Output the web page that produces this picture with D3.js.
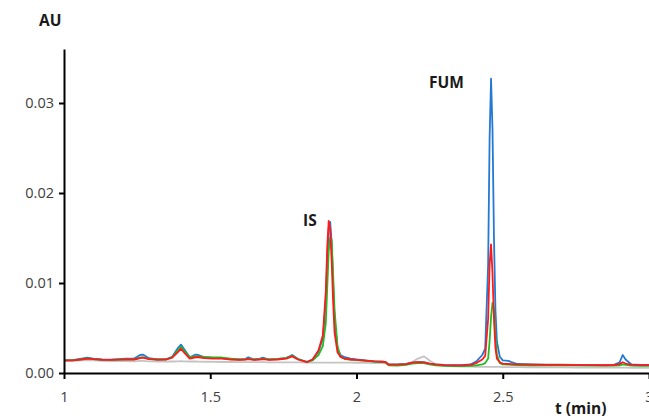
<!DOCTYPE html>
<html>
<head>
<meta charset="utf-8">
<script src="https://cdn.jsdelivr.net/npm/d3@7"></script>
<style>
  body { margin: 0; background: #fff; }
  .axis path, .axis line { stroke: #000; stroke-width: 2; }
  .axis text { font-family: "Open Sans", "Liberation Sans", sans-serif; font-size: 14.5px; fill: #404040; }
  .lbl { font-family: "Open Sans", "Liberation Sans", sans-serif; font-size: 15.5px; font-weight: bold; fill: #1a1a1a; }
  .trace { fill: none; stroke-width: 1.8; stroke-linejoin: round; }
</style>
</head>
<body>
<svg width="649" height="418"></svg>
<script>
// retention time (min), shared by all traces
var time = [1.00, 1.03, 1.06, 1.08, 1.10, 1.13, 1.16, 1.19, 1.21, 1.24,
  1.26, 1.27, 1.29, 1.32, 1.35, 1.37, 1.39, 1.40, 1.41, 1.43,
  1.45, 1.46, 1.48, 1.51, 1.54, 1.57, 1.60, 1.62, 1.63, 1.65,
  1.67, 1.68, 1.70, 1.73, 1.76, 1.78, 1.80, 1.83, 1.85, 1.87,
  1.885, 1.895, 1.90, 1.905, 1.91, 1.915, 1.92, 1.925, 1.935, 1.945,
  1.96, 1.98, 2.00, 2.03, 2.06, 2.09, 2.10, 2.11, 2.14, 2.17,
  2.19, 2.21, 2.23, 2.25, 2.27, 2.30, 2.33, 2.36, 2.39, 2.41,
  2.43, 2.44, 2.45, 2.455, 2.46, 2.465, 2.47, 2.475, 2.48, 2.49,
  2.50, 2.52, 2.53, 2.55, 2.60, 2.65, 2.70, 2.75, 2.80, 2.85,
  2.88, 2.90, 2.91, 2.92, 2.94, 2.97, 3.00];

// absorbance (AU)
var grayTrace = [0.00135, 0.00135, 0.00140, 0.00142, 0.00140, 0.00135, 0.00132, 0.00132, 0.00132, 0.00130,
  0.00135, 0.00135, 0.00130, 0.00128, 0.00128, 0.00128, 0.00130, 0.00132, 0.00130, 0.00128,
  0.00128, 0.00126, 0.00125, 0.00124, 0.00122, 0.00122, 0.00120, 0.00120, 0.00120, 0.00120,
  0.00120, 0.00120, 0.00118, 0.00118, 0.00118, 0.00118, 0.00118, 0.00116, 0.00116, 0.00116,
  0.00115, 0.00115, 0.00115, 0.00115, 0.00115, 0.00115, 0.00115, 0.00115, 0.00115, 0.00115,
  0.00115, 0.00115, 0.00114, 0.00112, 0.00110, 0.00110, 0.00108, 0.00090, 0.00090, 0.00095,
  0.00120, 0.00160, 0.00185, 0.00140, 0.00095, 0.00080, 0.00075, 0.00072, 0.00070, 0.00068,
  0.00068, 0.00068, 0.00068, 0.00068, 0.00068, 0.00068, 0.00068, 0.00068, 0.00068, 0.00067,
  0.00066, 0.00066, 0.00065, 0.00065, 0.00064, 0.00063, 0.00062, 0.00061, 0.00060, 0.00060,
  0.00059, 0.00059, 0.00059, 0.00059, 0.00058, 0.00058, 0.00058];

var blueTrace = [0.00140, 0.00142, 0.00160, 0.00170, 0.00160, 0.00150, 0.00148, 0.00155, 0.00160, 0.00160,
  0.00200, 0.00205, 0.00165, 0.00150, 0.00155, 0.00180, 0.00280, 0.00315, 0.00270, 0.00175,
  0.00205, 0.00200, 0.00175, 0.00165, 0.00165, 0.00155, 0.00150, 0.00155, 0.00175, 0.00150,
  0.00160, 0.00170, 0.00150, 0.00155, 0.00165, 0.00200, 0.00155, 0.00125, 0.00150, 0.00240,
  0.00380, 0.00800, 0.01250, 0.01600, 0.01680, 0.01450, 0.01000, 0.00600, 0.00280, 0.00200,
  0.00175, 0.00160, 0.00150, 0.00140, 0.00130, 0.00125, 0.00120, 0.00095, 0.00095, 0.00100,
  0.00115, 0.00120, 0.00120, 0.00105, 0.00095, 0.00090, 0.00088, 0.00088, 0.00095, 0.00130,
  0.00200, 0.00270, 0.01200, 0.02600, 0.03270, 0.02700, 0.01500, 0.00700, 0.00350, 0.00180,
  0.00140, 0.00135, 0.00120, 0.00100, 0.00095, 0.00092, 0.00092, 0.00090, 0.00088, 0.00088,
  0.00090, 0.00120, 0.00200, 0.00150, 0.00095, 0.00090, 0.00090];

var greenTrace = [0.00140, 0.00140, 0.00155, 0.00162, 0.00155, 0.00148, 0.00145, 0.00150, 0.00152, 0.00152,
  0.00170, 0.00175, 0.00158, 0.00150, 0.00152, 0.00175, 0.00255, 0.00290, 0.00250, 0.00175,
  0.00185, 0.00185, 0.00178, 0.00172, 0.00172, 0.00160, 0.00150, 0.00152, 0.00158, 0.00150,
  0.00155, 0.00160, 0.00152, 0.00158, 0.00168, 0.00190, 0.00155, 0.00122, 0.00140, 0.00200,
  0.00300, 0.00550, 0.00950, 0.01350, 0.01500, 0.01480, 0.01100, 0.00700, 0.00300, 0.00180,
  0.00155, 0.00148, 0.00142, 0.00135, 0.00128, 0.00122, 0.00118, 0.00085, 0.00082, 0.00090,
  0.00105, 0.00110, 0.00110, 0.00095, 0.00085, 0.00080, 0.00078, 0.00078, 0.00080, 0.00085,
  0.00095, 0.00110, 0.00160, 0.00350, 0.00620, 0.00780, 0.00700, 0.00400, 0.00200, 0.00110,
  0.00095, 0.00092, 0.00090, 0.00088, 0.00086, 0.00085, 0.00085, 0.00084, 0.00082, 0.00082,
  0.00082, 0.00085, 0.00095, 0.00090, 0.00082, 0.00080, 0.00080];

var redTrace = [0.00140, 0.00140, 0.00150, 0.00160, 0.00155, 0.00145, 0.00145, 0.00148, 0.00150, 0.00150,
  0.00165, 0.00170, 0.00155, 0.00148, 0.00150, 0.00170, 0.00235, 0.00270, 0.00230, 0.00160,
  0.00175, 0.00175, 0.00165, 0.00160, 0.00160, 0.00150, 0.00145, 0.00150, 0.00155, 0.00145,
  0.00150, 0.00155, 0.00145, 0.00150, 0.00160, 0.00185, 0.00150, 0.00120, 0.00150, 0.00250,
  0.00420, 0.00900, 0.01400, 0.01690, 0.01600, 0.01250, 0.00800, 0.00450, 0.00230, 0.00180,
  0.00160, 0.00150, 0.00145, 0.00138, 0.00130, 0.00125, 0.00120, 0.00092, 0.00092, 0.00098,
  0.00115, 0.00120, 0.00118, 0.00105, 0.00095, 0.00088, 0.00085, 0.00085, 0.00090, 0.00110,
  0.00150, 0.00190, 0.00600, 0.01200, 0.01430, 0.01100, 0.00600, 0.00280, 0.00160, 0.00120,
  0.00105, 0.00100, 0.00098, 0.00095, 0.00092, 0.00090, 0.00090, 0.00088, 0.00088, 0.00086,
  0.00088, 0.00100, 0.00120, 0.00105, 0.00090, 0.00088, 0.00088];

var xTicks = [1, 1.5, 2, 2.5, 3];
var yTicks = [0, 0.01, 0.02, 0.03];

var traces = [
  {values: grayTrace, color: '#c4c4c4'},
  {values: blueTrace, color: '#2479d4'},
  {values: greenTrace, color: '#22bb22'},
  {values: redTrace, color: '#ff1a1a'}
];

var svg = d3.select('svg');

var xScale = d3.scaleLinear().domain([1, 3]).range([64, 649]);
var yScale = d3.scaleLinear().domain([0, 0.036]).range([373, 49]);

var line = d3.line()
  .x(function(d, i) { return xScale(time[i]); })
  .y(function(d) { return yScale(d); });

svg.append('g').selectAll('path')
  .data(traces)
  .enter()
  .append('path')
  .attr('class', 'trace')
  .attr('stroke', function(d) { return d.color; })
  .attr('d', function(d) { return line(d.values); });

// Y axis
var yAxis = d3.axisLeft(yScale)
  .tickValues(yTicks)
  .tickSize(5)
  .tickSizeOuter(0)
  .tickPadding(5)
  .tickFormat(d3.format('.2f'));
svg.append('g')
  .attr('class', 'axis')
  .attr('transform', 'translate(64,0)')
  .call(yAxis);

// X axis
var xAxis = d3.axisBottom(xScale)
  .tickValues(xTicks)
  .tickSize(6)
  .tickSizeOuter(0)
  .tickPadding(13)
  .tickFormat(d3.format(''));
svg.append('g')
  .attr('class', 'axis')
  .attr('transform', 'translate(0,373)')
  .call(xAxis);

svg.append('text').attr('class', 'lbl').attr('x', 39).attr('y', 26).text('AU');
svg.append('text').attr('class', 'lbl').attr('x', 555).attr('y', 414).text('t (min)');
svg.append('text').attr('class', 'lbl').attr('x', 303).attr('y', 226).text('IS');
svg.append('text').attr('class', 'lbl').attr('x', 429).attr('y', 88).text('FUM');
</script>
</body>
</html>
